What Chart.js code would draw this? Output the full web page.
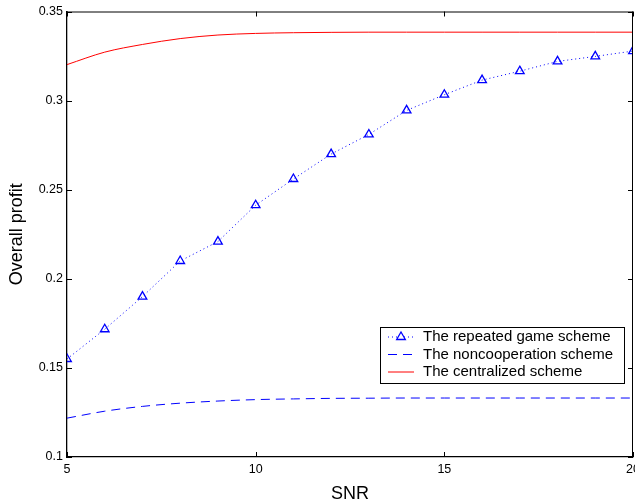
<!DOCTYPE html>
<html>
<head>
<meta charset="utf-8">
<script src="https://cdn.jsdelivr.net/npm/chart.js@4.4.1/dist/chart.umd.min.js"></script>
<style>
html,body{margin:0;padding:0;overflow:hidden;background:#fff;width:635px;height:504px;}
canvas{display:block;}
</style>
</head>
<body>
<canvas id="c" width="680" height="504"></canvas>
<script>
// ---- data ----
const snr = [5,6,7,8,9,10,11,12,13,14,15,16,17,18,19,20];
const repeatedGame = [0.155,0.1717,0.19,0.210,0.2209,0.2413,0.256,0.270,0.281,0.2945,0.3033,0.3115,0.3165,0.322,0.3248,0.3278];
const noncooperation = [0.1218,0.1257,0.1284,0.1302,0.1314,0.1322,0.1326,0.1329,0.1330,0.1331,0.1331,0.1331,0.1331,0.1331,0.1331,0.1331];
const centralized = [0.3202,0.3272,0.3315,0.3348,0.3368,0.3377,0.3381,0.3383,0.3384,0.3384,0.3384,0.3384,0.3384,0.3384,0.3384,0.3384];
const seriesLabels = ['The repeated game scheme','The noncooperation scheme','The centralized scheme'];
const xTickLabels = ['5','10','15','20'];
const yTickLabels = ['0.1','0.15','0.2','0.25','0.3','0.35'];
const xTitle = 'SNR';
const yTitle = 'Overall profit';

const FONT = '"Liberation Sans", Arial, Helvetica, sans-serif';
const toXY = (arr) => arr.map((v,i)=>({x:snr[i], y:v}));

const frameTicks = {
  id:'frameTicks',
  afterDatasetsDraw(chart){
    const {ctx, chartArea:a, scales:{x,y}} = chart;
    ctx.save();
    ctx.strokeStyle = '#000';
    ctx.lineWidth = 1;
    // top and right frame
    ctx.beginPath();
    ctx.moveTo(a.left, a.top+0.5); ctx.lineTo(a.right, a.top+0.5);
    ctx.moveTo(a.right-0.5, a.top); ctx.lineTo(a.right-0.5, a.bottom);
    ctx.stroke();
    const L = 5;
    ctx.beginPath();
    x.ticks.forEach(t=>{
      const px = Math.round(x.getPixelForValue(t.value))+0.5;
      ctx.moveTo(px, a.bottom); ctx.lineTo(px, a.bottom-L);
      ctx.moveTo(px, a.top); ctx.lineTo(px, a.top+L);
    });
    y.ticks.forEach(t=>{
      const py = Math.round(y.getPixelForValue(t.value))+0.5;
      ctx.moveTo(a.left, py); ctx.lineTo(a.left+L, py);
      ctx.moveTo(a.right, py); ctx.lineTo(a.right-L, py);
    });
    ctx.stroke();
    ctx.restore();
  }
};

const boxLegend = {
  id:'boxLegend',
  afterDraw(chart){
    const ctx = chart.ctx;
    const bx = 380.5, by = 327.5, bw = 244, bh = 56;
    ctx.save();
    ctx.fillStyle = '#fff';
    ctx.fillRect(bx, by, bw, bh);
    ctx.strokeStyle = '#000';
    ctx.lineWidth = 1;
    ctx.strokeRect(bx, by, bw, bh);
    const rows = [337, 354.5, 372];
    chart.data.datasets.forEach((ds, i)=>{
      const yy = rows[i];
      ctx.strokeStyle = ds.borderColor;
      ctx.lineWidth = ds.borderWidth;
      ctx.setLineDash(ds.borderDash || []);
      ctx.beginPath();
      ctx.moveTo(388, yy); ctx.lineTo(414, yy);
      ctx.stroke();
      ctx.setLineDash([]);
      if (ds.pointRadius > 0) {
        const r = ds.pointRadius, cx = 401;
        ctx.fillStyle = '#fff';
        ctx.lineWidth = ds.pointBorderWidth;
        ctx.strokeStyle = ds.pointBorderColor;
        ctx.beginPath();
        let rad = 0;
        ctx.moveTo(cx + Math.sin(rad)*r, yy - Math.cos(rad)*r);
        rad += 2*Math.PI/3;
        ctx.lineTo(cx + Math.sin(rad)*r, yy - Math.cos(rad)*r);
        rad += 2*Math.PI/3;
        ctx.lineTo(cx + Math.sin(rad)*r, yy - Math.cos(rad)*r);
        ctx.closePath();
        ctx.fill(); ctx.stroke();
      }
      ctx.fillStyle = '#000';
      ctx.font = '15px ' + FONT;
      ctx.textBaseline = 'middle';
      ctx.textAlign = 'left';
      ctx.fillText(ds.label, 423, yy);
    });
    ctx.restore();
  }
};

new Chart(document.getElementById('c'), {
  type:'line',
  data:{
    datasets:[
      {label:seriesLabels[0], data:toXY(repeatedGame), borderColor:'#0000ff', borderWidth:1, borderDash:[1,3],
       pointStyle:'triangle', pointRadius:5, pointBorderWidth:1.3, pointBorderColor:'#0000ff', pointBackgroundColor:'rgba(255,255,255,0)', tension:0},
      {label:seriesLabels[1], data:toXY(noncooperation), borderColor:'#0000ff', borderWidth:1, borderDash:[9,6],
       pointRadius:0, tension:0.4, cubicInterpolationMode:'monotone'},
      {label:seriesLabels[2], data:toXY(centralized), borderColor:'#ff0000', borderWidth:1,
       pointRadius:0, tension:0.4, cubicInterpolationMode:'monotone'}
    ]
  },
  options:{
    responsive:false,
    animation:false,
    events:[],
    layout:{padding:{top:11, right:680-633, left:8, bottom:0}},
    plugins:{legend:{display:false}, tooltip:{enabled:false}},
    scales:{
      x:{
        type:'linear', min:5, max:20,
        afterFit(s){ s.height = 47; },
        afterBuildTicks(s){ s.ticks = xTickLabels.map(v=>({value:Number(v)})); },
        ticks:{ callback:(v)=>xTickLabels[xTickLabels.indexOf(String(v))], color:'#000', font:{family:FONT,size:12.5}, padding:5, maxRotation:0, autoSkip:false },
        grid:{display:false, drawTicks:false},
        border:{display:true, color:'#000', width:1.3},
        title:{display:true, text:xTitle, color:'#000', font:{family:FONT,size:18, lineHeight:1}, padding:{top:0,bottom:1}}
      },
      y:{
        type:'linear', min:0.1, max:0.35,
        afterFit(s){ s.width = 59; },
        afterBuildTicks(s){ s.ticks = yTickLabels.map(v=>({value:Number(v)})); },
        ticks:{ callback:(v)=>yTickLabels.find(l=>Math.abs(Number(l)-v)<1e-9), color:'#000', font:{family:FONT,size:12.5}, padding:4, autoSkip:false },
        grid:{display:false, drawTicks:false},
        border:{display:true, color:'#000', width:1.3},
        title:{display:true, text:yTitle, color:'#000', font:{family:FONT,size:18, lineHeight:1}, padding:{top:0,bottom:0}}
      }
    }
  },
  plugins:[frameTicks, boxLegend]
});
</script>
</body>
</html>
